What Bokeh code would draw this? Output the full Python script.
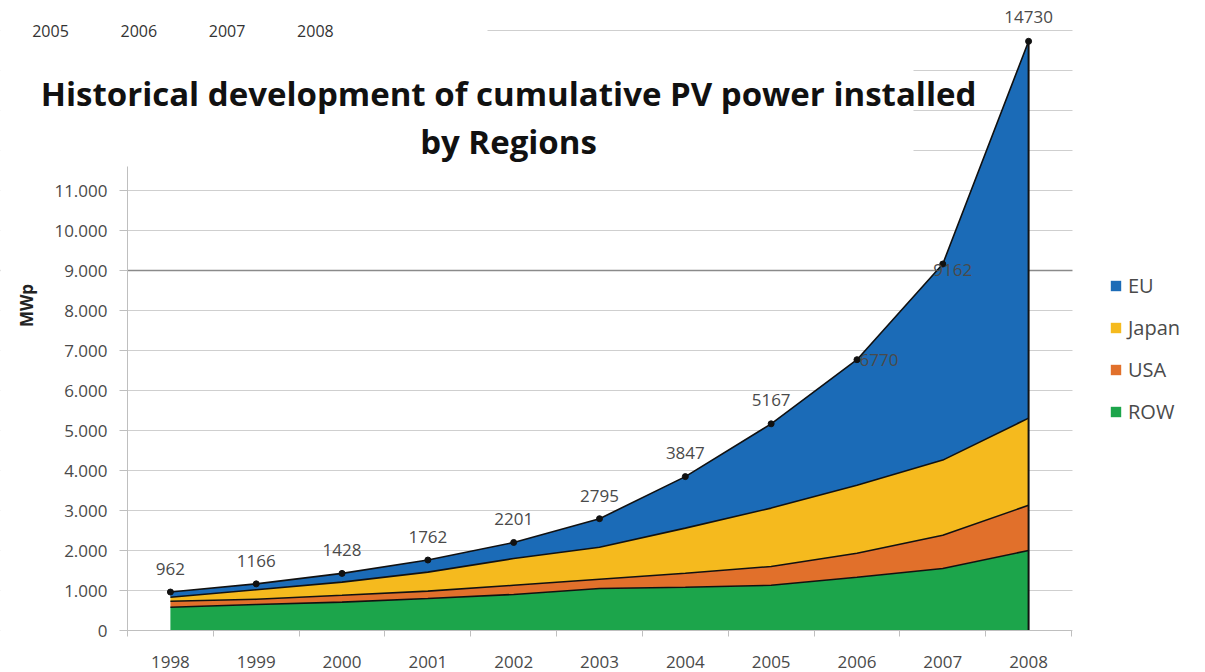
import math
from bokeh.plotting import figure
from bokeh.models import (ColumnDataSource, Range1d, FixedTicker, Legend, LegendItem,
                          Label, BoxAnnotation, Span)
from bokeh.transform import stack
from bokeh.core.properties import value
from bokeh.embed import file_html
from bokeh.resources import INLINE

# ---------------- data ----------------
YEARS = [1998, 1999, 2000, 2001, 2002, 2003, 2004, 2005, 2006, 2007, 2008]
TOTAL = [962, 1166, 1428, 1762, 2201, 2795, 3847, 5167, 6770, 9162, 14730]
ROW = [580, 650, 710, 800, 900, 1050, 1080, 1130, 1330, 1550, 2000]
USA = [150, 130, 170, 185, 230, 230, 350, 470, 600, 830, 1130]
JAPAN = [100, 240, 330, 475, 670, 800, 1130, 1460, 1700, 1880, 2180]
EU = [t - r - u - j for t, r, u, j in zip(TOTAL, ROW, USA, JAPAN)]
SERIES = ["ROW", "USA", "Japan", "EU"]
LEGEND_ORDER = ["EU", "Japan", "USA", "ROW"]
GRID_TICKS = list(range(0, 15001, 1000))
AXIS_TICKS = list(range(0, 11001, 1000))
TOP_LEFT_YEARS = ["2005", "2006", "2007", "2008"]
TITLE_1 = "Historical development of cumulative PV power installed"
TITLE_2 = "by Regions"
Y_TITLE = "MWp"

# ---------------- style / layout ----------------
COLORS = {"EU": "#1B6BB7", "Japan": "#F5BA1E", "USA": "#E1702B", "ROW": "#1CA54B"}
FONT = "Open Sans"
TXT = "#4a4a4a"
GRID = "#cfcfcf"
W, H = 1205, 672
# value-area geometry in canvas pixels
PL, PR, PT, PB = 127, 1071, 30, 630
XPAD = 0.5
YMAX = 15000
px_per_x = (PR - PL) / (len(YEARS) - 1 + 2 * XPAD)
px_per_y = (PB - PT) / YMAX
x0 = YEARS[0] - XPAD - PL / px_per_x
x1 = YEARS[-1] + XPAD + (W - PR) / px_per_x
y0 = -(H - PB) / px_per_y
y1 = YMAX + PT / px_per_y


def fx(X):  # canvas x -> frame screen x
    return X


def fy(Y):  # canvas y (from top) -> frame screen y (from bottom)
    return H - Y


src = ColumnDataSource(dict(year=YEARS, total=TOTAL, ROW=ROW, USA=USA, Japan=JAPAN, EU=EU,
                            label=[str(t) for t in TOTAL],
                            dx=[0, 0, 0, 0, 0, 0, 0, 0, 22, 10, 0],
                            dy=[-23, -23, -23, -23, -23, -23, -24, -24, 0, 6, -24]))

p = figure(width=W, height=H, output_backend="svg", toolbar_location=None,
           x_range=Range1d(x0, x1), y_range=Range1d(y0, y1), min_border=0)
p.outline_line_color = None
p.background_fill_color = "white"
p.border_fill_color = "white"

# grid
p.xgrid.visible = False
p.ygrid.ticker = FixedTicker(ticks=GRID_TICKS)
p.ygrid.bounds = (0, YMAX)
p.ygrid.grid_line_color = GRID
p.ygrid.grid_line_width = 1
p.add_layout(Span(location=9000, dimension="width", line_color="#8a8a8a",
                  line_width=1.3, level="underlay"))


def mask(left, right, bottom, top):
    p.add_layout(BoxAnnotation(left=left, right=right, bottom=bottom, top=top,
                               left_units="screen", right_units="screen",
                               top_units="screen", bottom_units="screen",
                               fill_color="white", fill_alpha=1, line_color=None,
                               level="underlay"))


# white masks: outside value area, title text box, leftover chart piece
mask(fx(0), fx(PL), fy(H), fy(0))
mask(fx(PR + 1), fx(W), fy(H), fy(0))
mask(fx(0), fx(487), fy(44), fy(0))
mask(fx(0), fx(913), fy(166), fy(44))

# axes
p.xaxis.fixed_location = 0
p.xaxis.bounds = (YEARS[0] - XPAD, YEARS[-1] + XPAD)
p.xaxis.ticker = FixedTicker(ticks=YEARS, minor_ticks=[y - 0.5 for y in YEARS] + [YEARS[-1] + 0.5])
p.xaxis.axis_line_color = "#bfbfbf"
p.xaxis.major_tick_line_color = None
p.xaxis.major_tick_out = 0
p.xaxis.major_tick_in = 0
p.xaxis.minor_tick_line_color = "#bfbfbf"
p.xaxis.minor_tick_out = 6
p.xaxis.minor_tick_in = 0
p.xaxis.major_label_standoff = 19
p.xaxis.major_label_text_font = FONT
p.xaxis.major_label_text_font_size = "17px"
p.xaxis.major_label_text_color = TXT

p.yaxis.fixed_location = YEARS[0] - XPAD
p.yaxis.bounds = (0, 11600)
p.yaxis.ticker = FixedTicker(ticks=AXIS_TICKS)
p.yaxis.major_label_overrides = {v: f"{v:,}".replace(",", ".") for v in AXIS_TICKS}
p.yaxis.axis_line_color = "#bfbfbf"
p.yaxis.major_tick_line_color = "#bfbfbf"
p.yaxis.major_tick_out = 8
p.yaxis.major_tick_in = 0
p.yaxis.minor_tick_line_color = None
p.yaxis.major_label_standoff = 12
p.yaxis.major_label_text_font = FONT
p.yaxis.major_label_text_font_size = "17px"
p.yaxis.major_label_text_color = TXT

# stacked areas
areas = p.varea_stack(SERIES, x="year", source=src, color=[COLORS[s] for s in SERIES])
for i in range(len(SERIES)):
    p.line(x="year", y=stack(*SERIES[:i + 1]), source=src, line_color="#111111", line_width=1.6)
p.segment(x0=YEARS[-1], y0=0, x1=YEARS[-1], y1=TOTAL[-1], line_color="#111111", line_width=2)

# totals markers and labels
p.scatter(x="year", y="total", source=src, size=6, color="#111111")
p.text(x="year", y="total", text="label", source=src, x_offset="dx", y_offset="dy",
       text_align="center", text_baseline="middle", text_font=value(FONT),
       text_font_size="17px", text_color=TXT)

# legend
items = [LegendItem(label=s, renderers=[areas[SERIES.index(s)]]) for s in LEGEND_ORDER]
legend = Legend(items=items, location=(fx(1109), fy(425)), orientation="vertical",
                glyph_width=13, glyph_height=13, label_height=20, spacing=15,
                padding=0, margin=0, label_standoff=6,
                label_text_font=FONT, label_text_font_size="20px", label_text_color=TXT,
                border_line_color=None, background_fill_alpha=0)
p.add_layout(legend)

# texts
for i, t in enumerate(TOP_LEFT_YEARS):
    p.add_layout(Label(x=fx(50 + i * 88.3), y=fy(30), x_units="screen", y_units="screen", text=t,
                       text_align="center", text_baseline="middle", text_font=FONT,
                       text_font_size="16px", text_color="#333333"))

p.add_layout(Label(x=fx(508), y=fy(93), x_units="screen", y_units="screen", text=TITLE_1,
                   text_align="center", text_baseline="alphabetic", text_font=FONT,
                   text_font_style="bold", text_font_size="33px", text_color="#111111"))
p.add_layout(Label(x=fx(508), y=fy(141), x_units="screen", y_units="screen", text=TITLE_2,
                   text_align="center", text_baseline="alphabetic", text_font=FONT,
                   text_font_style="bold", text_font_size="33px", text_color="#111111"))
p.add_layout(Label(x=fx(26), y=fy(305), x_units="screen", y_units="screen", text=Y_TITLE,
                   angle=math.pi / 2, text_align="center", text_baseline="middle",
                   text_font=FONT, text_font_style="bold", text_font_size="17px",
                   text_color="#222222"))

open("out.html", "w").write(file_html(p, INLINE))
